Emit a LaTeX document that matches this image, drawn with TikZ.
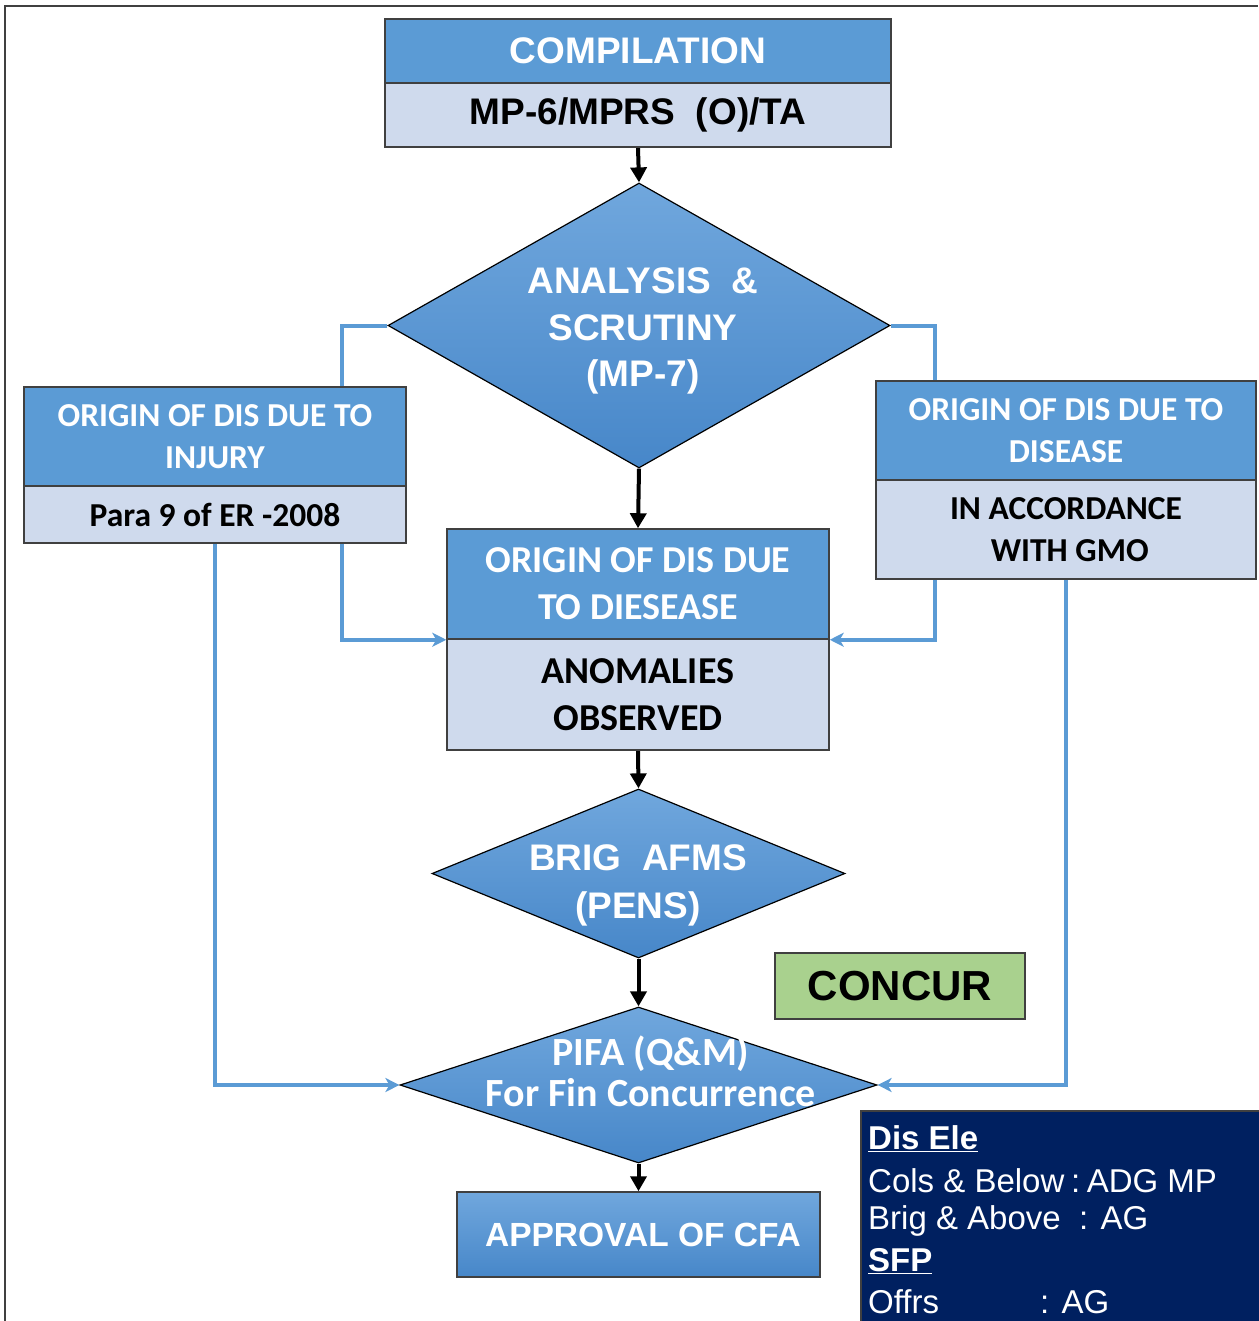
\documentclass[tikz,border=0pt]{standalone}
\usepackage{fontspec}
\setmainfont{Liberation Sans}
\newfontfamily\carl{Carlito}
\usetikzlibrary{shapes.geometric,arrows.meta}
\definecolor{hblue}{HTML}{5B9BD5}
\definecolor{lblue}{HTML}{CFDAED}
\definecolor{gtop}{HTML}{70A7DD}
\definecolor{gbot}{HTML}{4787C9}
\definecolor{navy}{HTML}{002060}
\definecolor{cgreen}{HTML}{A9D18E}
\definecolor{framec}{HTML}{404040}
\pgfdeclarelayer{background}
\pgfsetlayers{background,main}
\begin{document}
\begin{tikzpicture}[x=1pt,y=-1pt,
  box/.style={draw=framec, line width=1.5pt, inner sep=0pt, align=center},
  head/.style={box, fill=hblue, text=white},
  body/.style={box, fill=lblue, text=black},
  ariB/.style={font=\fontsize{37}{46.5}\selectfont\bfseries},
  calB/.style={font=\carl\fontsize{33.5}{42}\selectfont\bfseries},
  calC/.style={font=\carl\fontsize{38}{47}\selectfont\bfseries},
  dia/.style={diamond, draw=black, line width=1.2pt, inner sep=0pt, top color=gtop, bottom color=gbot},
  wtext/.style={text=white, align=center, inner sep=0pt},
  blk/.style={draw=black, line width=4pt, -{Triangle[length=15pt,width=16pt]}},
  bl/.style={draw=hblue, line width=4pt, line join=miter, -{Stealth[length=14pt,width=14pt,inset=4pt]}},
  distext/.style={anchor=west, text=white, inner sep=0pt, font=\fontsize{33}{38}\selectfont},
]
\useasboundingbox (0,0) rectangle (1258,1321);
\draw[framec, line width=2pt] (5,1321) -- (5,6) -- (1258,6);

% top box
\node[head, ariB, minimum width=506pt, minimum height=64pt] (comp1) at (638,51) {COMPILATION};
\node[body, ariB, minimum width=506pt, minimum height=64pt] (comp2) at (638,115) {MP-6/MPRS\ \ (O)/TA};

% diamond 1
\node[dia, minimum width=502pt, minimum height=285pt] (d1) at (639,325.5) {};
\node[wtext, ariB] (d1t) at (643,331) {ANALYSIS\ \ \&\\SCRUTINY\\(MP-7)};

% left box
\node[head, calB, minimum width=382pt, minimum height=99pt] (lh) at (215,436.5) {ORIGIN OF DIS DUE TO\\INJURY};
\node[body, calB, minimum width=382pt, minimum height=57pt] (lb) at (215,514.5) {Para 9 of ER -2008};

% right box
\node[head, calB, minimum width=380pt, minimum height=99pt] (rh) at (1066,430.5) {ORIGIN OF DIS DUE TO\\DISEASE};
\node[body, calB, minimum width=380pt, minimum height=99pt] (rb) at (1066,529.5) {IN ACCORDANCE\\\ WITH GMO};

% center box
\node[head, calC, minimum width=382pt, minimum height=110pt] (c1) at (638,584) {ORIGIN OF DIS DUE\\TO DIESEASE};
\node[body, calC, minimum width=382pt, minimum height=111pt] (c2) at (638,694.5) {ANOMALIES\\OBSERVED};

% diamond 2
\node[dia, minimum width=413pt, minimum height=169pt] (d2) at (638.5,873.5) {};
\node[wtext, font=\fontsize{37}{48}\selectfont\bfseries] (d2t) at (638,885) {BRIG\ \ AFMS\\(PENS)};

% concur
\node[box, fill=cgreen, minimum width=250pt, minimum height=66pt, font=\fontsize{42}{50}\selectfont\bfseries] (concur) at (900,986) {CONCUR};

% PIFA diamond
\node[dia, minimum width=477pt, minimum height=156pt] (d3) at (638.5,1085) {};
\node[wtext, font=\carl\fontsize{40}{41}\selectfont\bfseries] (d3t) at (651,1071) {PIFA (Q\&M)\\For Fin Concurrence};

% approval
\node[box, top color=gtop, bottom color=gbot, text=white, minimum width=363pt, minimum height=85pt, font=\fontsize{33.5}{40}\selectfont\bfseries] (appr) at (638.5,1234.5) {\hspace*{9pt}APPROVAL OF CFA};

% dis ele box
\node[draw=framec, line width=1.5pt, fill=navy, anchor=north west, inner sep=0pt, minimum width=402pt, minimum height=215pt] (dis) at (860,1110) {};
\node[distext, font=\fontsize{33}{38}\selectfont\bfseries] (l1) at (868,1139) {\underline{Dis Ele}};
\node[distext] (l2) at (868,1181) {Cols \& Below\hspace{0.2em}:\hspace{0.2em}ADG MP};
\node[distext] (l3) at (868,1221) {Brig \& Above\ \ : AG};
\node[distext, font=\fontsize{33}{38}\selectfont\bfseries] (l4) at (868,1261) {\underline{SFP}};
\node[distext] (l5) at (868,1302) {Offrs};
\node[distext] (l6) at (1040,1302) {: AG};

\begin{pgfonlayer}{background}
\fill[white] (0,0) rectangle (1258,1321);
\draw[blk] (comp2.south) -- (d1.north);
\draw[blk] (d1.south) -- (c1.north);
\draw[blk] (c2.south) -- (d2.north);
\draw[blk] (d2.south) -- (d3.north);
\draw[blk] (d3.south) -- (appr.north);
\draw[bl] (d1.west) -- ++(-45,0) |- (c1.south west);
\draw[bl] (d1.east) -- ++(44,0) |- (c1.south east);
\draw[bl] (lb.south) |- (d3.west);
\draw[bl] (rb.south) |- (d3.east);
\end{pgfonlayer}
\end{tikzpicture}
\end{document}
